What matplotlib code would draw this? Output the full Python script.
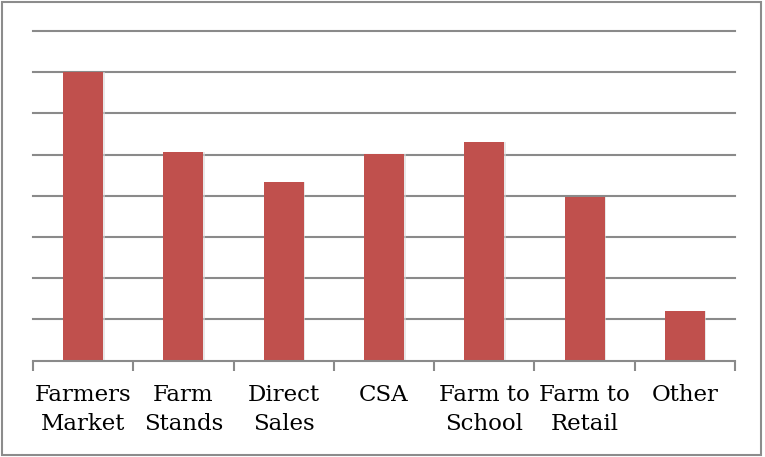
import matplotlib
matplotlib.use("Agg")
import matplotlib.pyplot as plt
from matplotlib.patches import Rectangle
import numpy as np

categories = ["Farmers\nMarket", "Farm\nStands", "Direct\nSales", "CSA",
              "Farm to\nSchool", "Farm to\nRetail", "Other"]
values = [7.0, 5.07, 4.33, 5.01, 5.31, 3.98, 1.19]
gridlines = [1, 2, 3, 4, 5, 6, 7, 8]

W, H = 765, 457
fig = plt.figure(figsize=(W / 100, H / 100), dpi=100)
fig.patch.set_facecolor("white")

# outer frame around the chart
fig.add_artist(Rectangle((2 / W, 2 / H), (761 - 2) / W, (455 - 2) / H,
                         transform=fig.transFigure, fill=False,
                         edgecolor="#8c8c8c", linewidth=1.5))

left, right = 33 / W, 735 / W
bottom, top = (H - 360.5) / H, (H - 31) / H
ax = fig.add_axes([left, bottom, right - left, top - bottom])

x = np.arange(len(categories))
ax.set_xlim(-0.5, len(categories) - 0.5)
ax.set_ylim(0, 8)

for g in gridlines:
    ax.axhline(g, color="#8a8a8a", linewidth=1.5, zorder=1, clip_on=False)

# soft shadow behind bars
ax.bar(x + 0.015, values, width=0.4, color="#d9d9d9", zorder=2,
       edgecolor="none", alpha=0.6)
ax.bar(x, values, width=0.4, color="#C0504D", zorder=3, edgecolor="none")

for s in ["top", "right", "left"]:
    ax.spines[s].set_visible(False)
ax.spines["bottom"].set_color("#8a8a8a")
ax.spines["bottom"].set_linewidth(1.5)
ax.spines["bottom"].set_zorder(4)

ax.set_yticks([])
ax.set_xticks(np.arange(-0.5, len(categories), 1.0))
ax.set_xticklabels([])
ax.tick_params(axis="x", which="major", length=7, width=1.5, color="#8a8a8a",
               direction="out")
ax.set_xticks(x, minor=True)
ax.set_xticklabels(categories, minor=True, fontsize=16.5,
                   family=["DejaVu Serif"], linespacing=1.4)
ax.tick_params(axis="x", which="minor", length=0, pad=17, colors="black")

fig.savefig("out.png", dpi=100, facecolor="white")
